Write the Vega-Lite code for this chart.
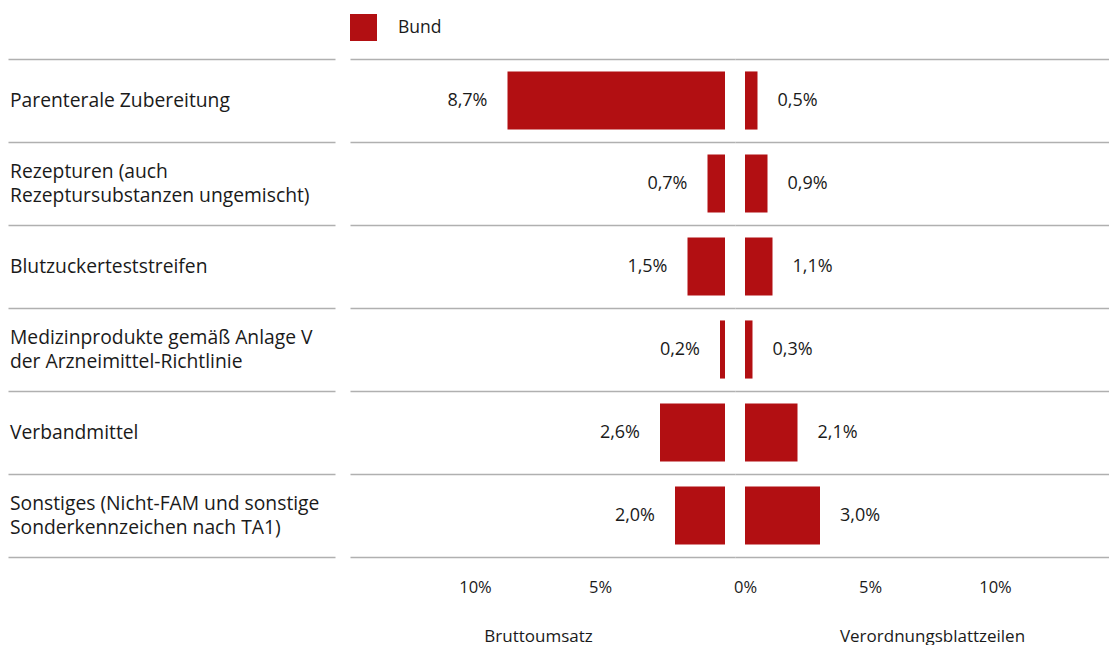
{
  "$schema": "https://vega.github.io/schema/vega-lite/v6.json",
  "padding": {"left": 8, "top": 14, "right": 0, "bottom": 0},
  "background": "white",
  "config": {
    "locale": {"number": {"decimal": ",", "thousands": ".", "grouping": [3], "currency": ["", " €"]}},
    "font": "Open Sans",
    "view": {"stroke": null},
    "axisX": {"domain": true, "domainColor": "#b0b0b0", "domainWidth": 1.5, "ticks": false, "grid": false, "labelFontSize": 16.5, "labelFontWeight": 500, "labelColor": "#1a1a1a", "labelPadding": 22, "titleFontSize": 17, "titleFontWeight": "normal", "titleColor": "#1a1a1a", "titlePadding": 33},
    "axisY": {"domain": false, "ticks": false, "labels": false, "title": null, "grid": true, "bandPosition": 0, "gridColor": "#b0b0b0", "gridWidth": 1.5}
  },
  "datasets": {
    "rows": [
      {"Kategorie": "Parenterale Zubereitung", "Bruttoumsatz": 0.087, "Verordnungsblattzeilen": 0.005, "Region": "Bund"},
      {"Kategorie": "Rezepturen (auch\nRezeptursubstanzen ungemischt)", "Bruttoumsatz": 0.007, "Verordnungsblattzeilen": 0.009, "Region": "Bund"},
      {"Kategorie": "Blutzuckerteststreifen", "Bruttoumsatz": 0.015, "Verordnungsblattzeilen": 0.011, "Region": "Bund"},
      {"Kategorie": "Medizinprodukte gemäß Anlage V\nder Arzneimittel-Richtlinie", "Bruttoumsatz": 0.002, "Verordnungsblattzeilen": 0.003, "Region": "Bund"},
      {"Kategorie": "Verbandmittel", "Bruttoumsatz": 0.026, "Verordnungsblattzeilen": 0.021, "Region": "Bund"},
      {"Kategorie": "Sonstiges (Nicht-FAM und sonstige\nSonderkennzeichen nach TA1)", "Bruttoumsatz": 0.020, "Verordnungsblattzeilen": 0.030, "Region": "Bund"}
    ]
  },
  "spacing": 15,
  "bounds": "flush",
  "hconcat": [
    {
      "width": 327,
      "height": 498,
      "data": {"name": "rows"},
      "encoding": {
        "y": {"field": "Kategorie", "type": "nominal", "sort": null, "scale": {"type": "band", "paddingInner": 0, "paddingOuter": 0}, "axis": {"bandPosition": 0, "grid": true, "labels": false, "ticks": false, "domain": false, "title": null}},
        "x": {"datum": 0, "type": "quantitative", "scale": {"domain": [0, 1]}, "axis": {"labels": false, "title": null, "values": []}}
      },
      "layer": [
        {
          "mark": {"type": "text", "align": "left", "baseline": "middle", "lineBreak": "\n", "fontSize": 19.3, "dx": 2, "color": "#1a1a1a", "lineHeight": 24},
          "encoding": {
            "text": {"condition": {"test": "indexof(datum.Kategorie, '\\n') < 0", "field": "Kategorie", "type": "nominal"}, "value": ""}
          }
        },
        {
          "mark": {"type": "text", "align": "left", "baseline": "middle", "lineBreak": "\n", "fontSize": 19.3, "dx": 2, "dy": -12, "color": "#1a1a1a", "lineHeight": 24},
          "encoding": {
            "text": {"condition": {"test": "indexof(datum.Kategorie, '\\n') >= 0", "field": "Kategorie", "type": "nominal"}, "value": ""}
          }
        }
      ]
    },
    {
      "spacing": 0,
      "bounds": "flush",
      "hconcat": [
        {
          "width": 385,
          "height": 498,
          "data": {"name": "rows"},
          "encoding": {
            "y": {"field": "Kategorie", "type": "nominal", "sort": null, "scale": {"paddingInner": 0, "paddingOuter": 0}},
            "x": {"field": "Bruttoumsatz", "type": "quantitative", "scale": {"domain": [-0.004, 0.15], "reverse": true, "nice": false}, "axis": {"values": [0.05, 0.1], "format": ".0%", "title": "Bruttoumsatz", "titleX": 188}}
          },
          "layer": [
            {
              "mark": {"type": "bar", "height": {"band": 0.7}},
              "encoding": {
                "color": {"field": "Region", "type": "nominal", "scale": {"range": ["#B20F12"]}, "legend": {"orient": "none", "legendX": 342, "legendY": -45, "title": null, "symbolType": "square", "symbolSize": 729, "symbolStrokeWidth": 0, "symbolOpacity": 1, "labelFontSize": 17.5, "labelFontWeight": 500, "labelColor": "#1a1a1a", "labelOffset": 21, "padding": 0}}
              }
            },
            {
              "mark": {"type": "text", "align": "right", "baseline": "middle", "dx": -20, "fontSize": 18, "fontWeight": 500, "color": "#1a1a1a"},
              "encoding": {"text": {"field": "Bruttoumsatz", "type": "quantitative", "format": ".1%"}}
            }
          ]
        },
        {
          "width": 374,
          "height": 498,
          "data": {"name": "rows"},
          "encoding": {
            "y": {"field": "Kategorie", "type": "nominal", "sort": null, "scale": {"paddingInner": 0, "paddingOuter": 0}},
            "x": {"field": "Verordnungsblattzeilen", "type": "quantitative", "scale": {"domain": [-0.004, 0.1456], "nice": false}, "axis": {"values": [0, 0.05, 0.1], "format": ".0%", "title": "Verordnungsblattzeilen", "titleX": 197}}
          },
          "layer": [
            {
              "mark": {"type": "bar", "height": {"band": 0.7}, "color": "#B20F12"},
              "encoding": {}
            },
            {
              "mark": {"type": "text", "align": "left", "baseline": "middle", "dx": 20, "fontSize": 18, "fontWeight": 500, "color": "#1a1a1a"},
              "encoding": {"text": {"field": "Verordnungsblattzeilen", "type": "quantitative", "format": ".1%"}}
            }
          ]
        }
      ]
    }
  ]
}
